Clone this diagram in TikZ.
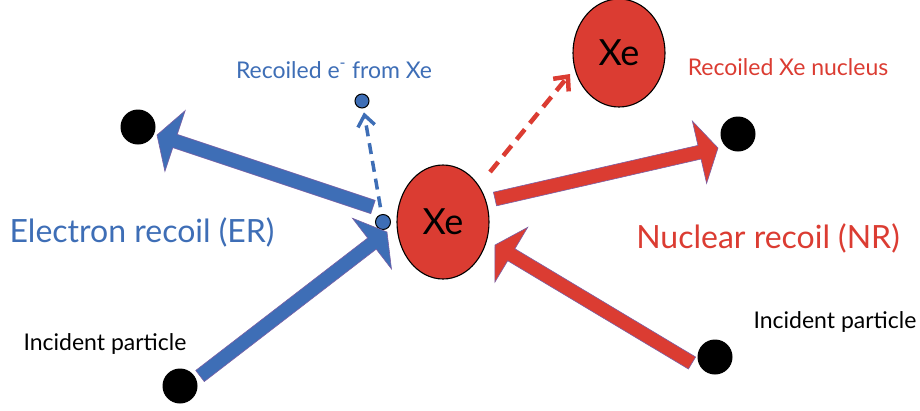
\documentclass[tikz,border=0pt]{standalone}
\usepackage{fontspec}
\setmainfont{Lato}
\usetikzlibrary{calc,arrows.meta,shapes.geometric}

\definecolor{erblue}{RGB}{62,110,182}
\definecolor{nrred}{RGB}{219,60,50}
\definecolor{rim}{RGB}{122,96,165}

% Broad block arrow from tail #1 to tip #2, filled with colour #3
\newcommand\fatarrow[3]{%
  \coordinate (fa-b) at ($(#2)!19pt!(#1)$);
  \filldraw[#3, draw=rim, line width=0.6pt, line join=miter]
    ($(#1)!7pt!90:(#2)$) -- ($(fa-b)!7pt!-90:(#1)$) -- ($(fa-b)!32pt!-90:(#1)$)
    -- (#2) -- ($(fa-b)!32pt!90:(#1)$) -- ($(fa-b)!7pt!90:(#1)$)
    -- ($(#1)!7pt!-90:(#2)$) -- cycle;}

\begin{document}
\begin{tikzpicture}[x=1pt,y=-1pt,
  nucleus/.style={ellipse, draw=black, line width=1.1pt, fill=nrred,
    minimum width=92pt, minimum height=114pt, inner sep=0pt,
    font=\fontsize{36}{38}\selectfont},
  particle/.style={circle, fill=black, minimum size=35pt, inner sep=0pt},
  electron/.style={circle, draw=black, line width=1pt, fill=erblue,
    minimum size=15pt, inner sep=0pt},
  tag/.style={inner sep=0pt, anchor=base, font=\fontsize{23}{25}\selectfont},
  bigtag/.style={inner sep=0pt, anchor=base, font=\fontsize{32}{34}\selectfont},
  dashedarrow/.style={line width=#1, dash pattern=on 13pt off 8pt}
]
\useasboundingbox (0,0) rectangle (920,410);

% nuclei
\node[nucleus] (xe)  at (443,222) {Xe};
\node[nucleus, minimum width=92pt, minimum height=108pt] (xe2) at (619,53) {Xe};

% electrons
\node[electron] (ea) at (383,222) {};
\node[electron, minimum size=14pt] (eb) at (362,101) {};

% incident and outgoing particles
\node[particle] (dtl) at (138,127) {};
\node[particle] (dtr) at (738,134) {};
\node[particle] (dbl) at (180,386) {};
\node[particle] (dbr) at (715,357) {};

% block-arrow end points
\coordinate (erin-t)  at (200,376);
\coordinate (erin-h)  at (387,232);
\coordinate (erout-t) at (373,207);
\coordinate (erout-h) at (157,135);
\coordinate (nrout-t) at (495,199);
\coordinate (nrout-h) at (718,148);
\coordinate (nrin-t)  at (692,363);
\coordinate (nrin-h)  at (495,245);

\fatarrow{erin-t}{erin-h}{erblue}
\fatarrow{erout-t}{erout-h}{erblue}
\fatarrow{nrout-t}{nrout-h}{nrred}
\fatarrow{nrin-t}{nrin-h}{nrred}

% recoiling electron and nucleus
\draw[erblue, dashedarrow=3.5pt, dash pattern=on 11pt off 7pt,
  -{Straight Barb[length=11pt, width=17pt, line width=3.5pt]},
  shorten <=7pt, shorten >=4pt] (ea) -- (eb);
\coordinate (ra) at (490,172);
\coordinate (rb) at (570,74);
\draw[nrred, dashedarrow=4.5pt,
  -{Straight Barb[length=11pt, width=20pt, line width=4.5pt]}] (ra) -- (rb);

% labels
\node[tag, text=erblue] (lre) at (334,78) {Recoiled e\textsuperscript{-} from Xe};
\node[tag, text=nrred] (lrn) at (788,75) {Recoiled Xe nucleus};
\node[bigtag, text=erblue] (ler) at (142,242) {Electron recoil (ER)};
\node[bigtag, text=nrred] (lnr) at (768,248) {Nuclear recoil (NR)};
\node[tag] (lil) at (105,350) {Incident particle};
\node[tag] (lir) at (835,328) {Incident particle};
\end{tikzpicture}
\end{document}
